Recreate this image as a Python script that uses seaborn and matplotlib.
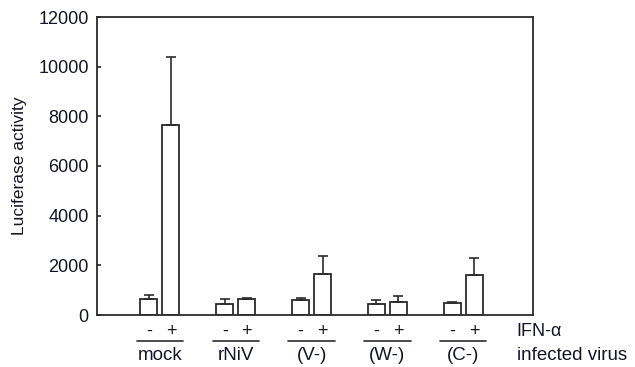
import matplotlib
matplotlib.use("Agg")
import matplotlib.pyplot as plt
import matplotlib.transforms as mtransforms
import seaborn as sns
import pandas as pd
import numpy as np

viruses = ["mock", "rNiV", "(V-)", "(W-)", "(C-)"]
ifn = ["-", "+"]
minus_vals = [640, 460, 590, 460, 470]
plus_vals = [7650, 630, 1670, 530, 1600]
minus_err = [160, 190, 110, 160, 50]
plus_err = [2750, 50, 720, 240, 700]

sns.set_theme(style="white")
plt.rcParams['font.family'] = ['Liberation Sans', 'DejaVu Sans']

df = pd.DataFrame({
    "virus": viruses * 2,
    "ifn": ["-"] * len(viruses) + ["+"] * len(viruses),
    "value": minus_vals + plus_vals,
    "err": minus_err + plus_err,
})

fig = plt.figure(figsize=(6.35, 3.67), dpi=100)
ax = fig.add_axes([97 / 635, 52 / 367, 436 / 635, 298 / 367])

edge = "#2b2b2b"
txt = "#14142a"
sns.barplot(data=df, x="virus", y="value", hue="ifn", order=viruses,
            hue_order=ifn, width=0.58, gap=0.23, dodge=True,
            palette=["white", "white"], edgecolor=edge, linewidth=1.3,
            errorbar=None, legend=False, ax=ax)

# error bars (upper only), positioned from the drawn bars
bars = [p for p in ax.patches if p.get_height() > 0]
errs = {("-", v): e for v, e in zip(viruses, minus_err)}
errs.update({("+", v): e for v, e in zip(viruses, plus_err)})
centers = {}
k = 0
for h in ifn:
    for v in viruses:
        p = bars[k]
        cx = p.get_x() + p.get_width() / 2
        top = p.get_height()
        centers[(h, v)] = cx
        ax.errorbar(cx, top, yerr=[[0], [errs[(h, v)]]], fmt="none",
                    ecolor=edge, elinewidth=1.2, capsize=3.6, capthick=1.2,
                    zorder=3)
        k += 1

ax.set_ylim(0, 12000)
ax.set_xlim(-0.83, 4.92)
ax.set_yticks(np.arange(0, 12001, 2000))
ax.set_yticklabels([str(t) for t in range(0, 12001, 2000)], fontsize=13, color=txt)
ax.tick_params(axis="y", direction="in", length=3, width=1.2, left=True, pad=6)
ax.set_xticks([])
ax.set_xlabel("")
ax.set_ylabel("Luciferase activity", fontsize=12.5, color=txt, labelpad=8)
for s in ax.spines.values():
    s.set_color(edge)
    s.set_linewidth(1.3)
    s.set_visible(True)

trans = mtransforms.blended_transform_factory(ax.transData, ax.transAxes)
for i, v in enumerate(viruses):
    for h in ifn:
        ax.text(centers[(h, v)], -0.054, h, transform=trans, ha="center",
                va="center", fontsize=13, color=txt)
    ax.plot([i - 0.305, i + 0.305], [-0.088, -0.088], transform=trans,
            color=edge, lw=1.2, clip_on=False)
    ax.text(i, -0.135, v, transform=trans, ha="center", va="center",
            fontsize=13.5, color=txt)

ax.text(0.963, -0.054, "IFN-α", transform=ax.transAxes, ha="left",
        va="center", fontsize=13, color=txt)
ax.text(0.963, -0.135, "infected virus", transform=ax.transAxes, ha="left",
        va="center", fontsize=13.5, color=txt)

fig.savefig("out.png", dpi=100)
